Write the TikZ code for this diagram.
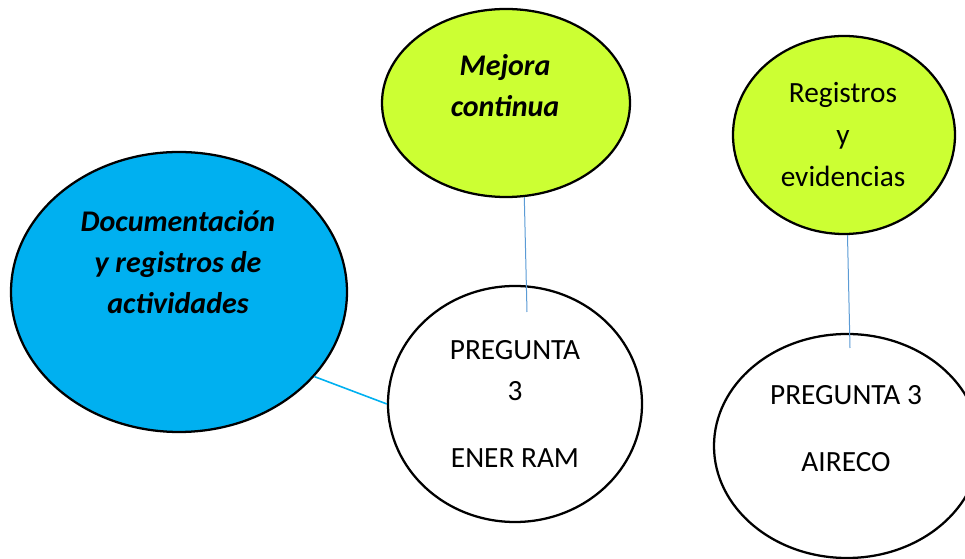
\documentclass[tikz,border=0pt]{standalone}
\usepackage{fontspec}
\setmainfont{Carlito}
\usepackage{tikz}
\usetikzlibrary{shapes.geometric}
\definecolor{lima}{RGB}{204,255,51}
\definecolor{cielo}{RGB}{0,176,240}
\definecolor{enlace}{RGB}{91,155,213}
\newcommand{\drawlink}[2]{\draw[#1, line width=#2]}

\begin{document}
\begin{tikzpicture}[x=.75pt, y=-.75pt,
    blob/.style={ellipse, draw, line width=1.7pt, inner sep=0pt},
    txt/.style={align=center, font=\fontsize{22}{30.75}\selectfont}]
\useasboundingbox (0,0) rectangle (965,559);
% bubbles
\node[blob, fill=cielo, minimum width=252pt, minimum height=210pt] (doc) at (179,292) {};
\node[blob, fill=lima, minimum width=186pt, minimum height=141pt] (mejora) at (506,103) {};
\node[blob, fill=lima, minimum width=166.5pt, minimum height=148.5pt] (registros) at (844,135) {};
\node[blob, fill=white, minimum width=190.5pt, minimum height=177pt] (enerram) at (515,404) {};
\node[blob, fill=white, minimum width=199.5pt, minimum height=168pt] (aireco) at (847,446) {};
% texts
\node[txt, font=\fontsize{22.5}{30.75}\selectfont\bfseries\itshape] (doctext) at (178,262) {Documentación\\y registros de\\actividades};
\node[txt, font=\fontsize{22.5}{30.75}\selectfont\bfseries\itshape] (mejoratext) at (505,86) {Mejora\\continua};
\node[txt, font=\fontsize{22}{31.5}\selectfont] (registrostext) at (843,135) {Registros\\y\\evidencias};
\node[txt] (enerramtext) at (515,404) {PREGUNTA\\3\\[19.5pt]ENER RAM};
\node[txt] (airecotext) at (846,429) {PREGUNTA 3\\[19.5pt]AIRECO};
% links
\coordinate (e1) at (527,312);
\coordinate (e2) at (850,348);
\drawlink{enlace}{.75pt} (mejora.-79) -- (e1);
\drawlink{enlace}{.75pt} (registros.-88) -- (e2);
\drawlink{cielo}{1.2pt} (doc.-32) -- (enerram.west);
\end{tikzpicture}
\end{document}
